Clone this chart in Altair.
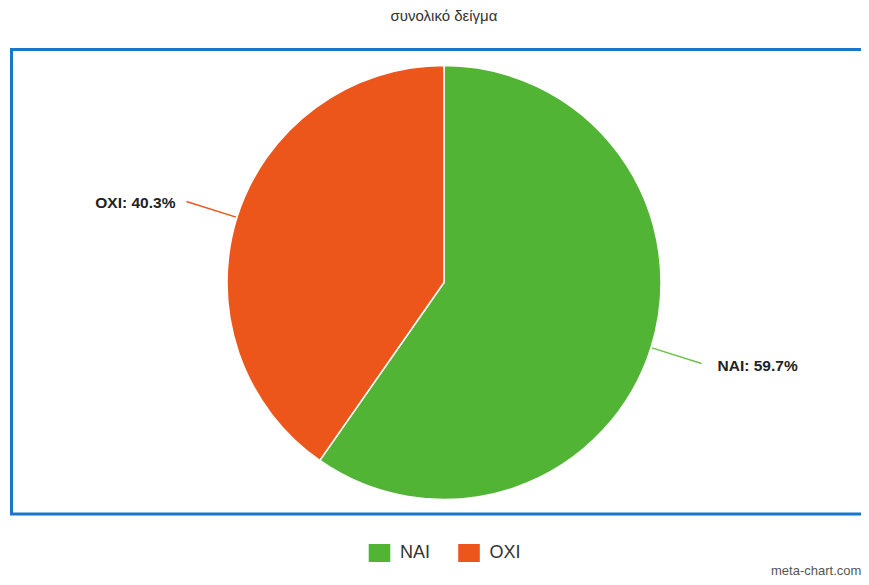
import altair as alt
import pandas as pd

# ---- data ----
categories = ["NAI", "OXI"]
values = [59.7, 40.3]
slice_colors = ["#52B435", "#EC561B"]
line_colors = ["#6CC24A", "#EC561B"]
chart_title = "συνολικό δείγμα"
watermark = "meta-chart.com"

# ---- layout (styling) ----
W, H = 853, 569
CX, CY = 436, 274.5
R = 217
R_LINE_END = 270

df = pd.DataFrame({"cat": categories, "value": values, "order": list(range(len(categories)))})

pie = alt.Chart(df).mark_arc(outerRadius=R, stroke="white", strokeWidth=1.5).encode(
    theta=alt.Theta("value:Q", stack=True),
    color=alt.Color(
        "cat:N",
        scale=alt.Scale(domain=categories, range=slice_colors),
        legend=alt.Legend(
            title=None,
            orient="none",
            legendX=362.5,
            legendY=536,
            direction="horizontal",
            symbolType="M-1.2,-1H1.2V1H-1.2Z",
            symbolSize=324,
            symbolStrokeWidth=0,
            labelFontSize=18,
            labelFont="Liberation Sans",
            labelColor="#333333",
            labelOffset=11.5,
            columnPadding=27.5,
            padding=0,
        ),
    ),
    order=alt.Order("order:Q"),
    x=alt.value(CX),
    y=alt.value(CY),
)

base = (
    alt.Chart(df)
    .transform_joinaggregate(total="sum(value)")
    .transform_window(cum="sum(value)", sort=[alt.SortField("order")], frame=[None, 0])
    .transform_calculate(mid="(datum.cum - datum.value/2) / datum.total * 2 * PI")
    .transform_calculate(
        x1=f"{CX} + {R + 1}*sin(datum.mid)",
        y1=f"{CY} - {R + 1}*cos(datum.mid)",
        x2=f"{CX} + {R_LINE_END}*sin(datum.mid)",
        y2=f"{CY} - {R_LINE_END}*cos(datum.mid)",
    )
    .transform_calculate(
        tx="datum.x2 + (sin(datum.mid) > 0 ? 16 : -11)",
        ty="datum.y2 + 2",
        label="datum.cat + ': ' + format(datum.value, '.1f') + '%'",
    )
)

connectors = base.mark_rule(strokeWidth=1.5).encode(
    x=alt.X("x1:Q", scale=None, axis=None),
    y=alt.Y("y1:Q", scale=None, axis=None),
    x2="x2:Q",
    y2="y2:Q",
    stroke=alt.Stroke("cat:N", scale=alt.Scale(domain=categories, range=line_colors), legend=None),
)

text_style = dict(baseline="middle", font="Liberation Sans", fontSize=15.5, fontWeight="bold", color="#222222")
labels_right = base.transform_filter("sin(datum.mid) > 0").mark_text(align="left", **text_style).encode(
    x=alt.X("tx:Q", scale=None, axis=None),
    y=alt.Y("ty:Q", scale=None, axis=None),
    text="label:N",
)
labels_left = base.transform_filter("sin(datum.mid) <= 0").mark_text(align="right", **text_style).encode(
    x=alt.X("tx:Q", scale=None, axis=None),
    y=alt.Y("ty:Q", scale=None, axis=None),
    text="label:N",
)

border = alt.Chart(pd.DataFrame({"b": [1]})).mark_rect(
    stroke="#1976CC", strokeWidth=3, fillOpacity=0
).encode(x=alt.value(3.5), x2=alt.value(900), y=alt.value(41.5), y2=alt.value(506))

title = alt.Chart(pd.DataFrame({"t": [chart_title]})).mark_text(
    font="Liberation Sans", fontSize=15, color="#333333", baseline="middle", align="center"
).encode(x=alt.value(CX), y=alt.value(8), text="t:N")

wm = alt.Chart(pd.DataFrame({"t": [watermark]})).mark_text(
    font="Liberation Sans", fontSize=13, color="#555555", baseline="alphabetic", align="left"
).encode(x=alt.value(763), y=alt.value(567), text="t:N")

chart = (
    alt.layer(border, pie, connectors, labels_right, labels_left, title, wm)
    .properties(width=W, height=H, autosize=alt.AutoSizeParams(type="none"), padding=0)
    .configure_view(strokeWidth=0)
)

chart.save("out.html", embed_options={"renderer": "svg", "actions": False})
